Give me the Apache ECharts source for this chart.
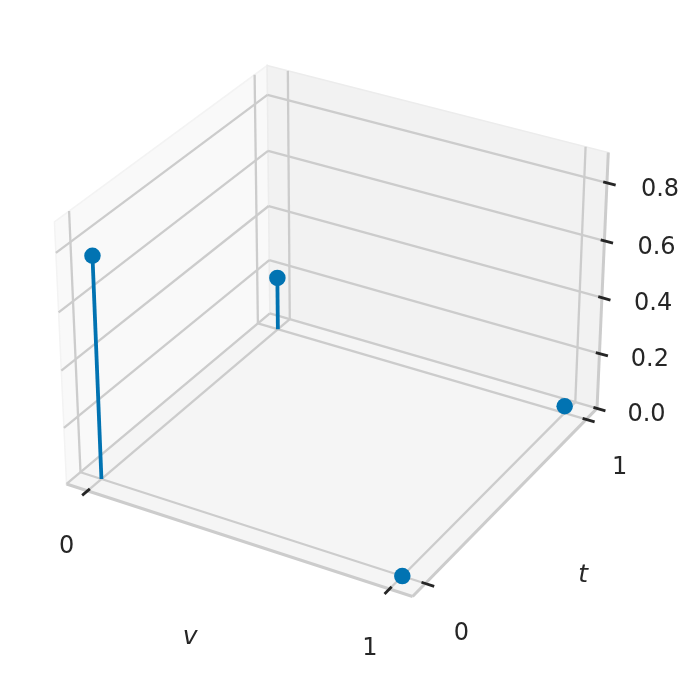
<!DOCTYPE html>
<html>
<head>
<meta charset="utf-8">
<style>html,body{margin:0;padding:0;background:#fff}#c{width:698px;height:679px}</style>
<script src="https://cdn.jsdelivr.net/npm/echarts@6/dist/echarts.min.js"></script>
</head>
<body>
<div id="c"></div>
<script>
// data values
const vValues = [0, 0, 1, 1];
const tValues = [0, 1, 0, 1];
const zValues = [0.775, 0.192, 0, 0.025];
const vTicks = [0, 1];
const tTicks = [0, 1];
const zTicks = [0, 0.2, 0.4, 0.6, 0.8];
const zTickLabels = ['0.0', '0.2', '0.4', '0.6', '0.8'];
// axis limits
const vLim = [-0.0729, 1.0729];
const tLim = [-0.0729, 1.0729];
const zLim = [0, 0.903];

// 3D view: elevation 30, azimuth -60, perspective at distance 10
const box = [1.1429, 1.1429, 0.8614];
const U = [0.866025, 0.5, 0];
const V = [-0.25, 0.433013, 0.866025];
const W = [0.433013, -0.75, 0.5];
const DIST = 10;
function project(v, t, z) {
  const p = [
    ((v - vLim[0]) / (vLim[1] - vLim[0]) - 0.5) * box[0],
    ((t - tLim[0]) / (tLim[1] - tLim[0]) - 0.5) * box[1],
    ((z - zLim[0]) / (zLim[1] - zLim[0]) - 0.5) * box[2]
  ];
  const dot = (a) => a[0] * p[0] + a[1] * p[1] + a[2] * p[2];
  const d = DIST - dot(W);
  return [dot(U) / d, dot(V) / d];
}
const v0 = vLim[0], v1 = vLim[1], t0 = tLim[0], t1 = tLim[1], z0 = zLim[0], z1 = zLim[1];

function polySeries(corners, fill, stroke) {
  return {
    type: 'custom', silent: true, clip: false, z: 1,
    data: [corners.flat()],
    renderItem: (params, api) => {
      const points = corners.map(c => api.coord(project(c[0], c[1], c[2])));
      return { type: 'polygon', shape: { points }, style: { fill, stroke, lineWidth: 1.5 } };
    }
  };
}
function segSeries(segs, stroke, lineWidth, z) {
  return {
    type: 'custom', silent: true, clip: false, z,
    data: segs.map(s => s.flat()),
    renderItem: (params, api) => {
      const a = api.coord(project(api.value(0), api.value(1), api.value(2)));
      const b = api.coord(project(api.value(3), api.value(4), api.value(5)));
      return { type: 'line', shape: { x1: a[0], y1: a[1], x2: b[0], y2: b[1] },
               style: { stroke, lineWidth, lineCap: 'butt' } };
    }
  };
}
function textSeries(items) {
  return {
    type: 'custom', silent: true, clip: false, z: 6,
    data: items.map(i => i.pos),
    renderItem: (params, api) => {
      const it = items[params.dataIndex];
      const a = api.coord(project(api.value(0), api.value(1), api.value(2)));
      return { type: 'text', style: {
        text: it.text, x: a[0] + it.dx, y: a[1] + it.dy,
        fill: '#262626', align: 'center', verticalAlign: 'middle',
        font: (it.italic ? 'italic 25px' : '24px') + ' "DejaVu Sans"'
      } };
    }
  };
}

const gridSegs = [];
vTicks.forEach(v => {
  gridSegs.push([[v, t0, z0], [v, t1, z0]]);
  gridSegs.push([[v, t1, z0], [v, t1, z1]]);
});
tTicks.forEach(t => {
  gridSegs.push([[v0, t, z0], [v0, t, z1]]);
  gridSegs.push([[v0, t, z0], [v1, t, z0]]);
});
zTicks.forEach(z => {
  gridSegs.push([[v0, t0, z], [v0, t1, z]]);
  gridSegs.push([[v0, t1, z], [v1, t1, z]]);
});
const edgeSegs = [
  [[v0, t0, z0], [v1, t0, z0]],
  [[v1, t0, z0], [v1, t1, z0]],
  [[v1, t1, z0], [v1, t1, z1]]
];
const tickSegs = [];
vTicks.forEach(v => tickSegs.push([[v, t0 - 0.028, z0], [v, t0 + 0.012, z0]]));
tTicks.forEach(t => tickSegs.push([[v1 - 0.012, t, z0], [v1 + 0.028, t, z0]]));
zTicks.forEach(z => tickSegs.push([[v1 - 0.012, t1, z], [v1 + 0.028, t1, z]]));
const stemSegs = vValues.map((v, i) => [[v, tValues[i], 0], [v, tValues[i], zValues[i]]]);

const labels = [];
labels.push({ text: '0', pos: [0, t0, z0], dx: -21, dy: 56 });
labels.push({ text: '1', pos: [1, t0, z0], dx: -19.5, dy: 60 });
labels.push({ text: '0', pos: [v1, 0, z0], dx: 36, dy: 50 });
labels.push({ text: '1', pos: [v1, 1, z0], dx: 33.5, dy: 48 });
zTicks.forEach((z, i) => labels.push({ text: zTickLabels[i], pos: [v1, t1, z], dx: 49.5 + z * 4.4, dy: 6 + z * 1.25 }));
labels.push({ text: 'v', italic: true, pos: [0.5, t0, z0], dx: -45, dy: 99 });
labels.push({ text: 't', italic: true, pos: [v1, 0.5, z0], dx: 74.5, dy: 77 });

const chart = echarts.init(document.getElementById('c'), null, { renderer: 'canvas' });
chart.setOption({
  animation: false,
  backgroundColor: '#ffffff',
  grid: { left: 0, right: 0, top: 0, bottom: 0 },
  xAxis: { type: 'value', min: -0.09697, max: 0.10418, show: false },
  yAxis: { type: 'value', min: -0.1038, max: 0.09187, show: false },
  series: [
    polySeries([[v0, t0, z0], [v0, t1, z0], [v0, t1, z1], [v0, t0, z1]], '#f9f9f9', '#f3f3f3'),
    polySeries([[v0, t1, z0], [v1, t1, z0], [v1, t1, z1], [v0, t1, z1]], '#f2f2f2', '#ececec'),
    polySeries([[v0, t0, z0], [v1, t0, z0], [v1, t1, z0], [v0, t1, z0]], '#f5f5f5', '#efefef'),
    segSeries(gridSegs, '#cccccc', 2.3, 2),
    segSeries(edgeSegs, '#cccccc', 3, 3),
    segSeries(tickSegs, '#262626', 2.8, 4),
    segSeries(stemSegs, '#0173b2', 3.8, 5),
    {
      type: 'scatter', silent: true, clip: false, z: 6,
      symbol: 'circle', symbolSize: 16.5,
      itemStyle: { color: '#0173b2', opacity: 1 },
      data: vValues.map((v, i) => project(v, tValues[i], zValues[i]))
    },
    textSeries(labels)
  ]
});
</script>
</body>
</html>
